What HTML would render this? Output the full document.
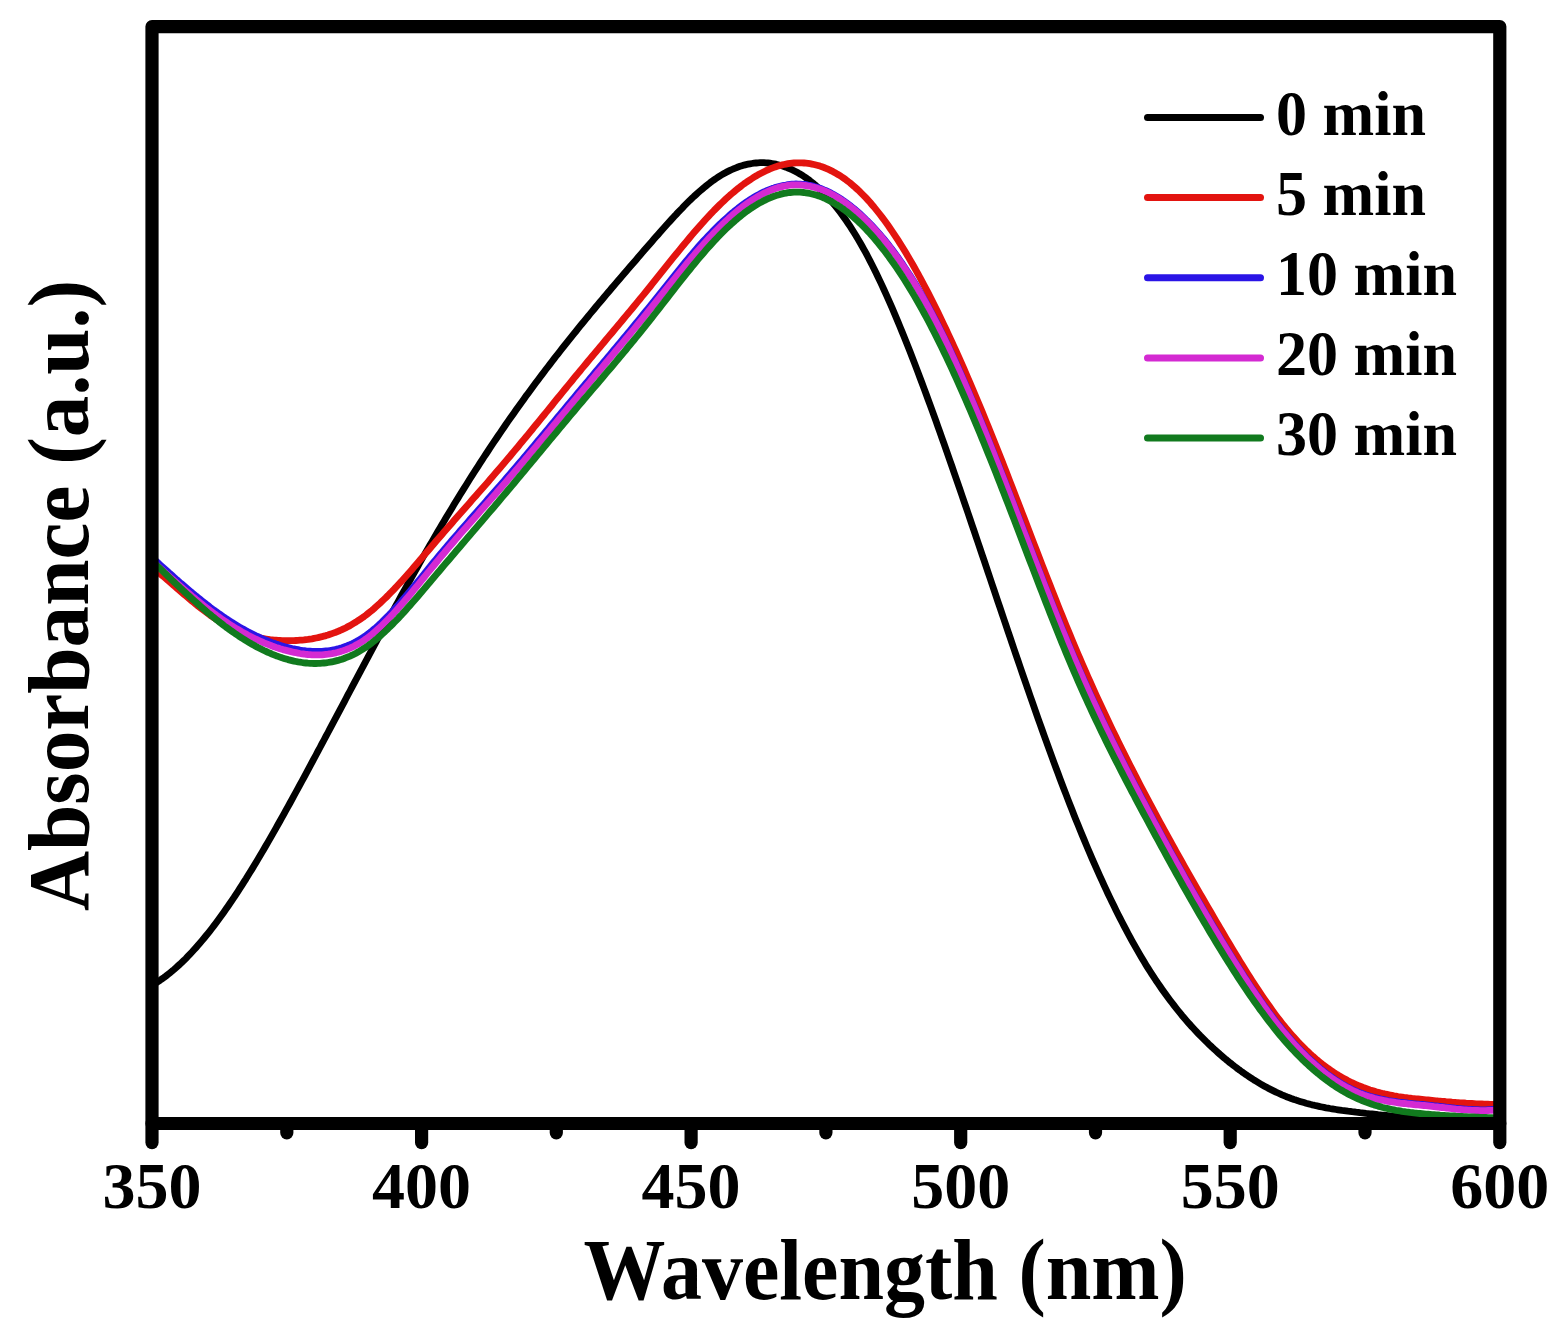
<!DOCTYPE html>
<html><head><meta charset="utf-8"><title>Absorbance vs Wavelength</title><style>
html,body{margin:0;padding:0;background:#fff;}
svg{display:block;}
text{font-family:"Liberation Serif","Times New Roman",serif;font-weight:bold;fill:#000;}
</style></head><body>
<svg width="1556" height="1336" viewBox="0 0 1556 1336">
<rect width="1556" height="1336" fill="#fff"/>
<g fill="none" stroke-width="6.8" stroke-linejoin="round" stroke-linecap="butt">
<path d="M152.0,985.3 154.0,984.1 156.0,982.9 158.0,981.6 160.0,980.3 162.0,978.9 164.0,977.5 166.0,976.0 168.0,974.4 170.0,972.8 172.0,971.2 174.0,969.5 176.0,967.7 178.0,965.9 180.0,964.1 182.0,962.2 184.0,960.3 186.0,958.3 188.0,956.2 190.0,954.1 192.0,952.0 194.0,949.8 196.0,947.6 198.0,945.3 200.0,943.0 202.0,940.6 204.0,938.2 206.0,935.8 208.0,933.3 210.0,930.8 212.0,928.2 214.0,925.6 216.0,922.9 218.0,920.2 220.0,917.5 222.0,914.7 224.0,911.9 226.0,909.1 228.0,906.2 230.0,903.3 232.0,900.3 234.0,897.4 236.0,894.3 238.0,891.3 240.0,888.2 242.0,885.1 244.0,881.9 246.0,878.8 248.0,875.5 250.0,872.3 252.0,869.1 254.0,865.8 256.0,862.5 258.0,859.1 260.0,855.8 262.0,852.4 264.0,849.0 266.0,845.5 268.0,842.1 270.0,838.6 272.0,835.1 274.0,831.6 276.0,828.1 278.0,824.5 280.0,821.0 282.0,817.4 284.0,813.8 286.0,810.2 288.0,806.6 290.0,803.0 292.0,799.3 294.0,795.7 296.0,792.0 298.0,788.4 300.0,784.7 302.0,781.0 304.0,777.3 306.0,773.6 308.0,769.9 310.0,766.2 312.0,762.4 314.0,758.7 316.0,755.0 318.0,751.2 320.0,747.5 322.0,743.7 324.0,740.0 326.0,736.2 328.0,732.5 330.0,728.7 332.0,724.9 334.0,721.2 336.0,717.4 338.0,713.6 340.0,709.8 342.0,706.1 344.0,702.3 346.0,698.5 348.0,694.7 350.0,691.0 352.0,687.2 354.0,683.4 356.0,679.7 358.0,675.9 360.0,672.1 362.0,668.4 364.0,664.6 366.0,660.9 368.0,657.1 370.0,653.4 372.0,649.7 374.0,646.0 376.0,642.2 378.0,638.5 380.0,634.8 382.0,631.1 384.0,627.4 386.0,623.7 388.0,620.0 390.0,616.4 392.0,612.7 394.0,609.1 396.0,605.4 398.0,601.8 400.0,598.1 402.0,594.5 404.0,590.9 406.0,587.3 408.0,583.7 410.0,580.2 412.0,576.6 414.0,573.0 416.0,569.5 418.0,566.0 420.0,562.4 422.0,558.9 424.0,555.4 426.0,551.9 428.0,548.5 430.0,545.0 432.0,541.6 434.0,538.1 436.0,534.7 438.0,531.3 440.0,527.9 442.0,524.5 444.0,521.2 446.0,517.8 448.0,514.5 450.0,511.2 452.0,507.9 454.0,504.6 456.0,501.3 458.0,498.1 460.0,494.8 462.0,491.6 464.0,488.4 466.0,485.2 468.0,482.0 470.0,478.8 472.0,475.7 474.0,472.5 476.0,469.4 478.0,466.3 480.0,463.2 482.0,460.1 484.0,457.0 486.0,454.0 488.0,451.0 490.0,447.9 492.0,444.9 494.0,441.9 496.0,439.0 498.0,436.0 500.0,433.1 502.0,430.1 504.0,427.2 506.0,424.3 508.0,421.4 510.0,418.6 512.0,415.7 514.0,412.9 516.0,410.0 518.0,407.2 520.0,404.4 522.0,401.7 524.0,398.9 526.0,396.1 528.0,393.4 530.0,390.7 532.0,388.0 534.0,385.3 536.0,382.6 538.0,379.9 540.0,377.2 542.0,374.6 544.0,371.9 546.0,369.3 548.0,366.7 550.0,364.1 552.0,361.5 554.0,358.9 556.0,356.3 558.0,353.8 560.0,351.2 562.0,348.7 564.0,346.1 566.0,343.6 568.0,341.1 570.0,338.6 572.0,336.1 574.0,333.6 576.0,331.2 578.0,328.7 580.0,326.2 582.0,323.8 584.0,321.3 586.0,318.9 588.0,316.5 590.0,314.0 592.0,311.6 594.0,309.2 596.0,306.8 598.0,304.4 600.0,302.0 602.0,299.7 604.0,297.3 606.0,294.9 608.0,292.5 610.0,290.2 612.0,287.8 614.0,285.5 616.0,283.1 618.0,280.8 620.0,278.5 622.0,276.1 624.0,273.8 626.0,271.5 628.0,269.1 630.0,266.8 632.0,264.5 634.0,262.2 636.0,259.9 638.0,257.6 640.0,255.3 642.0,252.9 644.0,250.6 646.0,248.3 648.0,246.0 650.0,243.7 652.0,241.4 654.0,239.1 656.0,236.8 658.0,234.6 660.0,232.3 662.0,230.0 664.0,227.8 666.0,225.5 668.0,223.3 670.0,221.1 672.0,218.9 674.0,216.7 676.0,214.6 678.0,212.4 680.0,210.3 682.0,208.3 684.0,206.2 686.0,204.2 688.0,202.2 690.0,200.2 692.0,198.3 694.0,196.4 696.0,194.6 698.0,192.8 700.0,191.0 702.0,189.3 704.0,187.6 706.0,186.0 708.0,184.4 710.0,182.8 712.0,181.3 714.0,179.9 716.0,178.5 718.0,177.2 720.0,175.9 722.0,174.7 724.0,173.5 726.0,172.4 728.0,171.4 730.0,170.4 732.0,169.5 734.0,168.6 736.0,167.8 738.0,167.0 740.0,166.3 742.0,165.7 744.0,165.1 746.0,164.6 748.0,164.2 750.0,163.8 752.0,163.5 754.0,163.2 756.0,163.0 758.0,162.8 760.0,162.7 762.0,162.7 764.0,162.7 766.0,162.8 768.0,163.0 770.0,163.2 772.0,163.5 774.0,163.8 776.0,164.2 778.0,164.7 780.0,165.2 782.0,165.8 784.0,166.5 786.0,167.2 788.0,168.0 790.0,168.8 792.0,169.7 794.0,170.7 796.0,171.7 798.0,172.8 800.0,174.0 802.0,175.2 804.0,176.5 806.0,177.9 808.0,179.3 810.0,180.8 812.0,182.4 814.0,184.0 816.0,185.7 818.0,187.5 820.0,189.4 822.0,191.3 824.0,193.3 826.0,195.4 828.0,197.5 830.0,199.8 832.0,202.1 834.0,204.4 836.0,206.9 838.0,209.4 840.0,212.0 842.0,214.7 844.0,217.5 846.0,220.3 848.0,223.2 850.0,226.2 852.0,229.3 854.0,232.5 856.0,235.7 858.0,239.1 860.0,242.5 862.0,246.0 864.0,249.6 866.0,253.2 868.0,257.0 870.0,260.8 872.0,264.7 874.0,268.7 876.0,272.8 878.0,276.9 880.0,281.1 882.0,285.4 884.0,289.7 886.0,294.1 888.0,298.6 890.0,303.1 892.0,307.7 894.0,312.4 896.0,317.1 898.0,321.9 900.0,326.7 902.0,331.6 904.0,336.5 906.0,341.5 908.0,346.5 910.0,351.6 912.0,356.7 914.0,361.9 916.0,367.1 918.0,372.4 920.0,377.7 922.0,383.0 924.0,388.4 926.0,393.8 928.0,399.2 930.0,404.7 932.0,410.2 934.0,415.7 936.0,421.2 938.0,426.8 940.0,432.4 942.0,438.1 944.0,443.7 946.0,449.4 948.0,455.1 950.0,460.8 952.0,466.5 954.0,472.3 956.0,478.1 958.0,483.9 960.0,489.7 962.0,495.5 964.0,501.3 966.0,507.2 968.0,513.0 970.0,518.9 972.0,524.8 974.0,530.7 976.0,536.6 978.0,542.5 980.0,548.4 982.0,554.3 984.0,560.2 986.0,566.2 988.0,572.1 990.0,578.0 992.0,584.0 994.0,589.9 996.0,595.8 998.0,601.8 1000.0,607.7 1002.0,613.6 1004.0,619.5 1006.0,625.4 1008.0,631.3 1010.0,637.2 1012.0,643.1 1014.0,649.0 1016.0,654.8 1018.0,660.7 1020.0,666.5 1022.0,672.3 1024.0,678.2 1026.0,683.9 1028.0,689.7 1030.0,695.5 1032.0,701.2 1034.0,706.9 1036.0,712.6 1038.0,718.3 1040.0,723.9 1042.0,729.5 1044.0,735.1 1046.0,740.6 1048.0,746.2 1050.0,751.7 1052.0,757.1 1054.0,762.6 1056.0,768.0 1058.0,773.3 1060.0,778.7 1062.0,784.0 1064.0,789.2 1066.0,794.4 1068.0,799.6 1070.0,804.7 1072.0,809.8 1074.0,814.9 1076.0,819.9 1078.0,824.8 1080.0,829.8 1082.0,834.6 1084.0,839.4 1086.0,844.2 1088.0,849.0 1090.0,853.6 1092.0,858.3 1094.0,862.9 1096.0,867.4 1098.0,871.9 1100.0,876.3 1102.0,880.7 1104.0,885.1 1106.0,889.4 1108.0,893.7 1110.0,897.9 1112.0,902.0 1114.0,906.1 1116.0,910.2 1118.0,914.2 1120.0,918.1 1122.0,922.0 1124.0,925.9 1126.0,929.7 1128.0,933.5 1130.0,937.2 1132.0,940.8 1134.0,944.4 1136.0,947.9 1138.0,951.4 1140.0,954.9 1142.0,958.3 1144.0,961.6 1146.0,964.9 1148.0,968.1 1150.0,971.3 1152.0,974.4 1154.0,977.4 1156.0,980.5 1158.0,983.4 1160.0,986.3 1162.0,989.2 1164.0,992.0 1166.0,994.8 1168.0,997.5 1170.0,1000.2 1172.0,1002.8 1174.0,1005.4 1176.0,1008.0 1178.0,1010.5 1180.0,1012.9 1182.0,1015.4 1184.0,1017.7 1186.0,1020.1 1188.0,1022.4 1190.0,1024.6 1192.0,1026.9 1194.0,1029.0 1196.0,1031.2 1198.0,1033.3 1200.0,1035.4 1202.0,1037.4 1204.0,1039.4 1206.0,1041.4 1208.0,1043.3 1210.0,1045.3 1212.0,1047.1 1214.0,1049.0 1216.0,1050.8 1218.0,1052.6 1220.0,1054.4 1222.0,1056.1 1224.0,1057.8 1226.0,1059.5 1228.0,1061.1 1230.0,1062.8 1232.0,1064.3 1234.0,1065.9 1236.0,1067.4 1238.0,1069.0 1240.0,1070.4 1242.0,1071.9 1244.0,1073.3 1246.0,1074.7 1248.0,1076.0 1250.0,1077.4 1252.0,1078.7 1254.0,1080.0 1256.0,1081.2 1258.0,1082.4 1260.0,1083.6 1262.0,1084.8 1264.0,1085.9 1266.0,1087.0 1268.0,1088.1 1270.0,1089.1 1272.0,1090.1 1274.0,1091.1 1276.0,1092.1 1278.0,1093.0 1280.0,1093.9 1282.0,1094.8 1284.0,1095.6 1286.0,1096.5 1288.0,1097.3 1290.0,1098.0 1292.0,1098.8 1294.0,1099.5 1296.0,1100.1 1298.0,1100.8 1300.0,1101.4 1302.0,1102.0 1304.0,1102.6 1306.0,1103.2 1308.0,1103.7 1310.0,1104.3 1312.0,1104.8 1314.0,1105.2 1316.0,1105.7 1318.0,1106.1 1320.0,1106.6 1322.0,1107.0 1324.0,1107.4 1326.0,1107.8 1328.0,1108.1 1330.0,1108.5 1332.0,1108.8 1334.0,1109.2 1336.0,1109.5 1338.0,1109.8 1340.0,1110.1 1342.0,1110.4 1344.0,1110.6 1346.0,1110.9 1348.0,1111.2 1350.0,1111.4 1352.0,1111.7 1354.0,1111.9 1356.0,1112.2 1358.0,1112.4 1360.0,1112.7 1362.0,1112.9 1364.0,1113.1 1366.0,1113.4 1368.0,1113.6 1370.0,1113.8 1372.0,1114.0 1374.0,1114.2 1376.0,1114.4 1378.0,1114.7 1380.0,1114.9 1382.0,1115.1 1384.0,1115.2 1386.0,1115.4 1388.0,1115.6 1390.0,1115.8 1392.0,1116.0 1394.0,1116.1 1396.0,1116.3 1398.0,1116.5 1400.0,1116.6 1402.0,1116.8 1404.0,1116.9 1406.0,1117.0 1408.0,1117.2 1410.0,1117.3 1412.0,1117.4 1414.0,1117.5 1416.0,1117.6 1418.0,1117.7 1420.0,1117.8 1422.0,1117.9 1424.0,1118.0 1426.0,1118.1 1428.0,1118.1 1430.0,1118.2 1432.0,1118.2 1434.0,1118.3 1436.0,1118.3 1438.0,1118.3 1440.0,1118.4 1442.0,1118.4 1444.0,1118.4 1446.0,1118.4 1448.0,1118.4 1450.0,1118.4 1452.0,1118.4 1454.0,1118.4 1456.0,1118.4 1458.0,1118.4 1460.0,1118.4 1462.0,1118.4 1464.0,1118.4 1466.0,1118.4 1468.0,1118.4 1470.0,1118.5 1472.0,1118.5 1474.0,1118.5 1476.0,1118.5 1478.0,1118.5 1480.0,1118.5 1482.0,1118.5 1484.0,1118.6 1486.0,1118.6 1488.0,1118.7 1490.0,1118.7 1492.0,1118.8 1494.0,1118.8 1496.0,1118.9 1498.0,1119.0 1499.8,1119.1" stroke="#000000"/>
<path d="M152.0,566.9 154.0,568.6 156.0,570.2 158.0,571.9 160.0,573.6 162.0,575.3 164.0,577.0 166.0,578.7 168.0,580.5 170.0,582.2 172.0,583.9 174.0,585.7 176.0,587.4 178.0,589.2 180.0,590.9 182.0,592.6 184.0,594.3 186.0,596.0 188.0,597.7 190.0,599.4 192.0,601.1 194.0,602.7 196.0,604.4 198.0,606.0 200.0,607.5 202.0,609.1 204.0,610.6 206.0,612.1 208.0,613.6 210.0,615.1 212.0,616.5 214.0,617.8 216.0,619.2 218.0,620.5 220.0,621.7 222.0,622.9 224.0,624.1 226.0,625.2 228.0,626.3 230.0,627.3 232.0,628.3 234.0,629.3 236.0,630.2 238.0,631.0 240.0,631.9 242.0,632.6 244.0,633.4 246.0,634.1 248.0,634.7 250.0,635.4 252.0,635.9 254.0,636.5 256.0,637.0 258.0,637.5 260.0,637.9 262.0,638.3 264.0,638.7 266.0,639.0 268.0,639.3 270.0,639.6 272.0,639.8 274.0,640.1 276.0,640.2 278.0,640.4 280.0,640.5 282.0,640.6 284.0,640.7 286.0,640.7 288.0,640.7 290.0,640.7 292.0,640.6 294.0,640.6 296.0,640.5 298.0,640.4 300.0,640.2 302.0,640.1 304.0,639.9 306.0,639.6 308.0,639.4 310.0,639.1 312.0,638.8 314.0,638.4 316.0,638.0 318.0,637.6 320.0,637.1 322.0,636.7 324.0,636.1 326.0,635.6 328.0,635.0 330.0,634.3 332.0,633.6 334.0,632.9 336.0,632.2 338.0,631.3 340.0,630.5 342.0,629.6 344.0,628.7 346.0,627.7 348.0,626.6 350.0,625.6 352.0,624.4 354.0,623.2 356.0,622.0 358.0,620.7 360.0,619.4 362.0,618.0 364.0,616.6 366.0,615.1 368.0,613.5 370.0,611.9 372.0,610.3 374.0,608.6 376.0,606.8 378.0,605.0 380.0,603.2 382.0,601.3 384.0,599.4 386.0,597.5 388.0,595.5 390.0,593.4 392.0,591.4 394.0,589.3 396.0,587.2 398.0,585.0 400.0,582.9 402.0,580.7 404.0,578.4 406.0,576.2 408.0,573.9 410.0,571.7 412.0,569.4 414.0,567.1 416.0,564.8 418.0,562.4 420.0,560.1 422.0,557.8 424.0,555.4 426.0,553.1 428.0,550.7 430.0,548.4 432.0,546.0 434.0,543.7 436.0,541.3 438.0,539.0 440.0,536.7 442.0,534.4 444.0,532.1 446.0,529.8 448.0,527.5 450.0,525.2 452.0,522.9 454.0,520.6 456.0,518.3 458.0,516.0 460.0,513.8 462.0,511.5 464.0,509.2 466.0,506.9 468.0,504.7 470.0,502.4 472.0,500.1 474.0,497.8 476.0,495.6 478.0,493.3 480.0,491.0 482.0,488.7 484.0,486.4 486.0,484.2 488.0,481.9 490.0,479.6 492.0,477.3 494.0,474.9 496.0,472.6 498.0,470.3 500.0,468.0 502.0,465.6 504.0,463.3 506.0,460.9 508.0,458.6 510.0,456.2 512.0,453.8 514.0,451.4 516.0,449.1 518.0,446.7 520.0,444.2 522.0,441.8 524.0,439.4 526.0,437.0 528.0,434.6 530.0,432.1 532.0,429.7 534.0,427.2 536.0,424.8 538.0,422.3 540.0,419.9 542.0,417.4 544.0,415.0 546.0,412.5 548.0,410.1 550.0,407.6 552.0,405.2 554.0,402.7 556.0,400.2 558.0,397.8 560.0,395.3 562.0,392.9 564.0,390.4 566.0,388.0 568.0,385.5 570.0,383.1 572.0,380.7 574.0,378.2 576.0,375.8 578.0,373.4 580.0,371.0 582.0,368.5 584.0,366.1 586.0,363.7 588.0,361.3 590.0,358.9 592.0,356.5 594.0,354.1 596.0,351.8 598.0,349.4 600.0,347.0 602.0,344.6 604.0,342.2 606.0,339.8 608.0,337.4 610.0,335.1 612.0,332.7 614.0,330.3 616.0,327.9 618.0,325.5 620.0,323.1 622.0,320.7 624.0,318.3 626.0,315.9 628.0,313.5 630.0,311.1 632.0,308.7 634.0,306.3 636.0,303.8 638.0,301.4 640.0,299.0 642.0,296.5 644.0,294.1 646.0,291.6 648.0,289.1 650.0,286.7 652.0,284.2 654.0,281.7 656.0,279.2 658.0,276.7 660.0,274.2 662.0,271.7 664.0,269.2 666.0,266.7 668.0,264.2 670.0,261.7 672.0,259.2 674.0,256.7 676.0,254.3 678.0,251.8 680.0,249.4 682.0,246.9 684.0,244.5 686.0,242.1 688.0,239.7 690.0,237.3 692.0,234.9 694.0,232.6 696.0,230.3 698.0,228.0 700.0,225.7 702.0,223.5 704.0,221.2 706.0,219.0 708.0,216.9 710.0,214.7 712.0,212.6 714.0,210.5 716.0,208.5 718.0,206.5 720.0,204.5 722.0,202.6 724.0,200.7 726.0,198.8 728.0,197.0 730.0,195.2 732.0,193.5 734.0,191.8 736.0,190.1 738.0,188.5 740.0,187.0 742.0,185.4 744.0,183.9 746.0,182.5 748.0,181.1 750.0,179.8 752.0,178.5 754.0,177.2 756.0,176.0 758.0,174.8 760.0,173.7 762.0,172.7 764.0,171.7 766.0,170.7 768.0,169.8 770.0,168.9 772.0,168.1 774.0,167.4 776.0,166.7 778.0,166.1 780.0,165.5 782.0,164.9 784.0,164.5 786.0,164.1 788.0,163.7 790.0,163.4 792.0,163.2 794.0,163.0 796.0,162.9 798.0,162.8 800.0,162.8 802.0,162.9 804.0,163.0 806.0,163.2 808.0,163.4 810.0,163.7 812.0,164.1 814.0,164.5 816.0,165.0 818.0,165.5 820.0,166.1 822.0,166.8 824.0,167.5 826.0,168.3 828.0,169.2 830.0,170.1 832.0,171.1 834.0,172.2 836.0,173.3 838.0,174.5 840.0,175.7 842.0,177.0 844.0,178.4 846.0,179.8 848.0,181.4 850.0,182.9 852.0,184.6 854.0,186.3 856.0,188.1 858.0,189.9 860.0,191.8 862.0,193.8 864.0,195.8 866.0,197.9 868.0,200.1 870.0,202.3 872.0,204.7 874.0,207.0 876.0,209.5 878.0,212.0 880.0,214.5 882.0,217.1 884.0,219.8 886.0,222.5 888.0,225.3 890.0,228.2 892.0,231.1 894.0,234.1 896.0,237.1 898.0,240.2 900.0,243.3 902.0,246.5 904.0,249.8 906.0,253.1 908.0,256.4 910.0,259.9 912.0,263.3 914.0,266.8 916.0,270.4 918.0,274.0 920.0,277.6 922.0,281.4 924.0,285.1 926.0,288.9 928.0,292.7 930.0,296.6 932.0,300.6 934.0,304.6 936.0,308.6 938.0,312.6 940.0,316.7 942.0,320.9 944.0,325.1 946.0,329.3 948.0,333.6 950.0,337.9 952.0,342.2 954.0,346.6 956.0,351.0 958.0,355.5 960.0,360.0 962.0,364.5 964.0,369.0 966.0,373.6 968.0,378.3 970.0,382.9 972.0,387.6 974.0,392.3 976.0,397.0 978.0,401.8 980.0,406.6 982.0,411.4 984.0,416.3 986.0,421.2 988.0,426.1 990.0,431.0 992.0,436.0 994.0,441.0 996.0,446.0 998.0,451.0 1000.0,456.0 1002.0,461.1 1004.0,466.2 1006.0,471.3 1008.0,476.4 1010.0,481.6 1012.0,486.7 1014.0,491.9 1016.0,497.1 1018.0,502.2 1020.0,507.4 1022.0,512.6 1024.0,517.8 1026.0,523.0 1028.0,528.2 1030.0,533.5 1032.0,538.7 1034.0,543.9 1036.0,549.0 1038.0,554.2 1040.0,559.4 1042.0,564.6 1044.0,569.7 1046.0,574.9 1048.0,580.0 1050.0,585.1 1052.0,590.2 1054.0,595.3 1056.0,600.3 1058.0,605.4 1060.0,610.4 1062.0,615.3 1064.0,620.3 1066.0,625.2 1068.0,630.1 1070.0,634.9 1072.0,639.8 1074.0,644.5 1076.0,649.3 1078.0,654.0 1080.0,658.7 1082.0,663.3 1084.0,667.9 1086.0,672.4 1088.0,677.0 1090.0,681.5 1092.0,685.9 1094.0,690.4 1096.0,694.8 1098.0,699.1 1100.0,703.5 1102.0,707.8 1104.0,712.0 1106.0,716.3 1108.0,720.5 1110.0,724.7 1112.0,728.9 1114.0,733.0 1116.0,737.1 1118.0,741.2 1120.0,745.3 1122.0,749.3 1124.0,753.3 1126.0,757.3 1128.0,761.3 1130.0,765.2 1132.0,769.1 1134.0,773.1 1136.0,776.9 1138.0,780.8 1140.0,784.7 1142.0,788.5 1144.0,792.3 1146.0,796.1 1148.0,799.9 1150.0,803.6 1152.0,807.4 1154.0,811.1 1156.0,814.9 1158.0,818.6 1160.0,822.3 1162.0,825.9 1164.0,829.6 1166.0,833.2 1168.0,836.9 1170.0,840.5 1172.0,844.1 1174.0,847.7 1176.0,851.3 1178.0,854.9 1180.0,858.5 1182.0,862.0 1184.0,865.6 1186.0,869.1 1188.0,872.6 1190.0,876.1 1192.0,879.6 1194.0,883.1 1196.0,886.6 1198.0,890.1 1200.0,893.6 1202.0,897.0 1204.0,900.5 1206.0,903.9 1208.0,907.4 1210.0,910.8 1212.0,914.3 1214.0,917.7 1216.0,921.1 1218.0,924.5 1220.0,927.9 1222.0,931.3 1224.0,934.7 1226.0,938.1 1228.0,941.5 1230.0,944.8 1232.0,948.2 1234.0,951.5 1236.0,954.8 1238.0,958.1 1240.0,961.4 1242.0,964.6 1244.0,967.8 1246.0,971.0 1248.0,974.2 1250.0,977.4 1252.0,980.5 1254.0,983.6 1256.0,986.6 1258.0,989.7 1260.0,992.7 1262.0,995.6 1264.0,998.6 1266.0,1001.5 1268.0,1004.3 1270.0,1007.1 1272.0,1009.9 1274.0,1012.7 1276.0,1015.4 1278.0,1018.0 1280.0,1020.6 1282.0,1023.2 1284.0,1025.7 1286.0,1028.1 1288.0,1030.5 1290.0,1032.9 1292.0,1035.2 1294.0,1037.4 1296.0,1039.6 1298.0,1041.8 1300.0,1043.9 1302.0,1045.9 1304.0,1047.9 1306.0,1049.9 1308.0,1051.8 1310.0,1053.7 1312.0,1055.5 1314.0,1057.2 1316.0,1059.0 1318.0,1060.7 1320.0,1062.3 1322.0,1063.9 1324.0,1065.4 1326.0,1066.9 1328.0,1068.4 1330.0,1069.8 1332.0,1071.2 1334.0,1072.5 1336.0,1073.8 1338.0,1075.0 1340.0,1076.3 1342.0,1077.4 1344.0,1078.6 1346.0,1079.6 1348.0,1080.7 1350.0,1081.7 1352.0,1082.7 1354.0,1083.6 1356.0,1084.5 1358.0,1085.4 1360.0,1086.2 1362.0,1087.0 1364.0,1087.8 1366.0,1088.5 1368.0,1089.2 1370.0,1089.9 1372.0,1090.5 1374.0,1091.1 1376.0,1091.7 1378.0,1092.2 1380.0,1092.8 1382.0,1093.3 1384.0,1093.7 1386.0,1094.2 1388.0,1094.6 1390.0,1095.0 1392.0,1095.4 1394.0,1095.8 1396.0,1096.1 1398.0,1096.5 1400.0,1096.8 1402.0,1097.1 1404.0,1097.4 1406.0,1097.6 1408.0,1097.9 1410.0,1098.1 1412.0,1098.4 1414.0,1098.6 1416.0,1098.8 1418.0,1099.0 1420.0,1099.2 1422.0,1099.4 1424.0,1099.6 1426.0,1099.8 1428.0,1100.0 1430.0,1100.2 1432.0,1100.4 1434.0,1100.6 1436.0,1100.8 1438.0,1101.0 1440.0,1101.1 1442.0,1101.3 1444.0,1101.5 1446.0,1101.7 1448.0,1101.8 1450.0,1102.0 1452.0,1102.2 1454.0,1102.3 1456.0,1102.5 1458.0,1102.6 1460.0,1102.8 1462.0,1102.9 1464.0,1103.0 1466.0,1103.2 1468.0,1103.3 1470.0,1103.4 1472.0,1103.5 1474.0,1103.6 1476.0,1103.8 1478.0,1103.8 1480.0,1103.9 1482.0,1104.0 1484.0,1104.1 1486.0,1104.2 1488.0,1104.2 1490.0,1104.3 1492.0,1104.3 1494.0,1104.4 1496.0,1104.4 1498.0,1104.4 1499.8,1104.4" stroke="#e3140f"/>
<path d="M152.0,557.5 154.0,559.3 156.0,561.1 158.0,562.9 160.0,564.7 162.0,566.5 164.0,568.3 166.0,570.1 168.0,571.9 170.0,573.7 172.0,575.4 174.0,577.2 176.0,579.0 178.0,580.7 180.0,582.5 182.0,584.2 184.0,585.9 186.0,587.6 188.0,589.3 190.0,591.0 192.0,592.7 194.0,594.3 196.0,596.0 198.0,597.6 200.0,599.2 202.0,600.8 204.0,602.4 206.0,604.0 208.0,605.5 210.0,607.1 212.0,608.6 214.0,610.1 216.0,611.5 218.0,613.0 220.0,614.4 222.0,615.8 224.0,617.2 226.0,618.5 228.0,619.9 230.0,621.2 232.0,622.4 234.0,623.7 236.0,624.9 238.0,626.1 240.0,627.3 242.0,628.5 244.0,629.6 246.0,630.7 248.0,631.8 250.0,632.8 252.0,633.8 254.0,634.8 256.0,635.8 258.0,636.7 260.0,637.6 262.0,638.5 264.0,639.4 266.0,640.2 268.0,641.0 270.0,641.8 272.0,642.6 274.0,643.3 276.0,644.0 278.0,644.6 280.0,645.3 282.0,645.9 284.0,646.5 286.0,647.0 288.0,647.5 290.0,648.0 292.0,648.5 294.0,648.9 296.0,649.3 298.0,649.7 300.0,650.1 302.0,650.4 304.0,650.6 306.0,650.9 308.0,651.1 310.0,651.2 312.0,651.4 314.0,651.5 316.0,651.5 318.0,651.5 320.0,651.5 322.0,651.4 324.0,651.2 326.0,651.0 328.0,650.8 330.0,650.5 332.0,650.2 334.0,649.8 336.0,649.4 338.0,648.9 340.0,648.3 342.0,647.7 344.0,647.0 346.0,646.3 348.0,645.5 350.0,644.7 352.0,643.8 354.0,642.8 356.0,641.7 358.0,640.6 360.0,639.4 362.0,638.2 364.0,636.9 366.0,635.5 368.0,634.0 370.0,632.5 372.0,630.9 374.0,629.2 376.0,627.5 378.0,625.7 380.0,623.9 382.0,622.0 384.0,620.0 386.0,618.0 388.0,616.0 390.0,613.9 392.0,611.8 394.0,609.6 396.0,607.4 398.0,605.2 400.0,602.9 402.0,600.6 404.0,598.3 406.0,595.9 408.0,593.6 410.0,591.2 412.0,588.8 414.0,586.3 416.0,583.9 418.0,581.5 420.0,579.0 422.0,576.5 424.0,574.1 426.0,571.6 428.0,569.1 430.0,566.7 432.0,564.2 434.0,561.8 436.0,559.4 438.0,556.9 440.0,554.5 442.0,552.1 444.0,549.8 446.0,547.4 448.0,545.0 450.0,542.7 452.0,540.3 454.0,538.0 456.0,535.7 458.0,533.4 460.0,531.0 462.0,528.7 464.0,526.4 466.0,524.2 468.0,521.9 470.0,519.6 472.0,517.3 474.0,515.0 476.0,512.8 478.0,510.5 480.0,508.2 482.0,505.9 484.0,503.7 486.0,501.4 488.0,499.1 490.0,496.9 492.0,494.6 494.0,492.3 496.0,490.0 498.0,487.7 500.0,485.5 502.0,483.2 504.0,480.9 506.0,478.6 508.0,476.2 510.0,473.9 512.0,471.6 514.0,469.3 516.0,466.9 518.0,464.6 520.0,462.2 522.0,459.9 524.0,457.5 526.0,455.1 528.0,452.8 530.0,450.4 532.0,448.0 534.0,445.6 536.0,443.2 538.0,440.8 540.0,438.4 542.0,436.1 544.0,433.7 546.0,431.3 548.0,428.9 550.0,426.4 552.0,424.0 554.0,421.6 556.0,419.2 558.0,416.8 560.0,414.4 562.0,412.0 564.0,409.6 566.0,407.2 568.0,404.8 570.0,402.4 572.0,400.0 574.0,397.6 576.0,395.2 578.0,392.8 580.0,390.4 582.0,388.0 584.0,385.6 586.0,383.2 588.0,380.9 590.0,378.5 592.0,376.1 594.0,373.7 596.0,371.3 598.0,368.9 600.0,366.6 602.0,364.2 604.0,361.8 606.0,359.4 608.0,357.0 610.0,354.6 612.0,352.2 614.0,349.8 616.0,347.4 618.0,345.0 620.0,342.6 622.0,340.2 624.0,337.8 626.0,335.4 628.0,333.0 630.0,330.6 632.0,328.1 634.0,325.7 636.0,323.3 638.0,320.8 640.0,318.4 642.0,315.9 644.0,313.4 646.0,311.0 648.0,308.5 650.0,306.0 652.0,303.5 654.0,301.0 656.0,298.5 658.0,296.0 660.0,293.5 662.0,291.0 664.0,288.5 666.0,286.0 668.0,283.5 670.0,281.0 672.0,278.5 674.0,276.0 676.0,273.5 678.0,271.0 680.0,268.6 682.0,266.1 684.0,263.7 686.0,261.3 688.0,258.9 690.0,256.5 692.0,254.1 694.0,251.8 696.0,249.4 698.0,247.1 700.0,244.8 702.0,242.6 704.0,240.4 706.0,238.3 708.0,236.2 710.0,234.1 712.0,232.0 714.0,230.0 716.0,228.0 718.0,226.0 720.0,224.0 722.0,222.1 724.0,220.3 726.0,218.5 728.0,216.7 730.0,214.9 732.0,213.2 734.0,211.5 736.0,209.9 738.0,208.3 740.0,206.8 742.0,205.3 744.0,203.8 746.0,202.4 748.0,201.0 750.0,199.7 752.0,198.5 754.0,197.2 756.0,196.1 758.0,195.0 760.0,193.9 762.0,192.9 764.0,191.9 766.0,191.0 768.0,190.2 770.0,189.4 772.0,188.6 774.0,188.0 776.0,187.3 778.0,186.8 780.0,186.3 782.0,185.8 784.0,185.3 786.0,185.0 788.0,184.6 790.0,184.4 792.0,184.2 794.0,184.1 796.0,184.0 798.0,184.1 800.0,184.1 802.0,184.3 804.0,184.5 806.0,184.7 808.0,185.1 810.0,185.4 812.0,185.9 814.0,186.4 816.0,187.0 818.0,187.6 820.0,188.3 822.0,189.0 824.0,189.9 826.0,190.7 828.0,191.6 830.0,192.6 832.0,193.7 834.0,194.8 836.0,195.9 838.0,197.1 840.0,198.4 842.0,199.7 844.0,201.1 846.0,202.5 848.0,204.0 850.0,205.5 852.0,207.1 854.0,208.7 856.0,210.4 858.0,212.1 860.0,213.9 862.0,215.7 864.0,217.6 866.0,219.6 868.0,221.5 870.0,223.6 872.0,225.7 874.0,227.8 876.0,230.0 878.0,232.2 880.0,234.5 882.0,236.9 884.0,239.3 886.0,241.7 888.0,244.2 890.0,246.8 892.0,249.4 894.0,252.1 896.0,254.8 898.0,257.6 900.0,260.4 902.0,263.3 904.0,266.3 906.0,269.3 908.0,272.3 910.0,275.4 912.0,278.6 914.0,281.8 916.0,285.1 918.0,288.5 920.0,291.9 922.0,295.3 924.0,298.9 926.0,302.4 928.0,306.1 930.0,309.8 932.0,313.5 934.0,317.4 936.0,321.2 938.0,325.2 940.0,329.2 942.0,333.2 944.0,337.3 946.0,341.5 948.0,345.7 950.0,350.0 952.0,354.3 954.0,358.6 956.0,363.0 958.0,367.5 960.0,372.0 962.0,376.5 964.0,381.1 966.0,385.7 968.0,390.3 970.0,395.0 972.0,399.8 974.0,404.5 976.0,409.3 978.0,414.2 980.0,419.0 982.0,423.9 984.0,428.8 986.0,433.8 988.0,438.8 990.0,443.8 992.0,448.8 994.0,453.8 996.0,458.9 998.0,464.0 1000.0,469.1 1002.0,474.2 1004.0,479.3 1006.0,484.5 1008.0,489.7 1010.0,494.8 1012.0,500.0 1014.0,505.2 1016.0,510.4 1018.0,515.6 1020.0,520.9 1022.0,526.1 1024.0,531.3 1026.0,536.5 1028.0,541.7 1030.0,546.9 1032.0,552.1 1034.0,557.3 1036.0,562.5 1038.0,567.7 1040.0,572.8 1042.0,578.0 1044.0,583.1 1046.0,588.2 1048.0,593.3 1050.0,598.4 1052.0,603.5 1054.0,608.5 1056.0,613.5 1058.0,618.5 1060.0,623.4 1062.0,628.4 1064.0,633.3 1066.0,638.1 1068.0,642.9 1070.0,647.7 1072.0,652.5 1074.0,657.2 1076.0,661.9 1078.0,666.5 1080.0,671.1 1082.0,675.6 1084.0,680.2 1086.0,684.6 1088.0,689.1 1090.0,693.5 1092.0,697.9 1094.0,702.2 1096.0,706.5 1098.0,710.8 1100.0,715.0 1102.0,719.3 1104.0,723.4 1106.0,727.6 1108.0,731.7 1110.0,735.8 1112.0,739.9 1114.0,744.0 1116.0,748.0 1118.0,752.0 1120.0,756.0 1122.0,760.0 1124.0,763.9 1126.0,767.9 1128.0,771.8 1130.0,775.7 1132.0,779.5 1134.0,783.4 1136.0,787.2 1138.0,791.0 1140.0,794.9 1142.0,798.7 1144.0,802.4 1146.0,806.2 1148.0,810.0 1150.0,813.7 1152.0,817.5 1154.0,821.2 1156.0,824.9 1158.0,828.6 1160.0,832.3 1162.0,836.0 1164.0,839.7 1166.0,843.4 1168.0,847.0 1170.0,850.7 1172.0,854.3 1174.0,857.9 1176.0,861.5 1178.0,865.1 1180.0,868.7 1182.0,872.2 1184.0,875.8 1186.0,879.3 1188.0,882.9 1190.0,886.4 1192.0,889.9 1194.0,893.4 1196.0,896.9 1198.0,900.4 1200.0,903.8 1202.0,907.3 1204.0,910.7 1206.0,914.1 1208.0,917.5 1210.0,920.9 1212.0,924.3 1214.0,927.6 1216.0,931.0 1218.0,934.3 1220.0,937.7 1222.0,941.0 1224.0,944.3 1226.0,947.5 1228.0,950.8 1230.0,954.0 1232.0,957.3 1234.0,960.5 1236.0,963.6 1238.0,966.8 1240.0,969.9 1242.0,973.1 1244.0,976.2 1246.0,979.2 1248.0,982.3 1250.0,985.3 1252.0,988.3 1254.0,991.2 1256.0,994.1 1258.0,997.0 1260.0,999.9 1262.0,1002.7 1264.0,1005.6 1266.0,1008.3 1268.0,1011.1 1270.0,1013.8 1272.0,1016.4 1274.0,1019.1 1276.0,1021.7 1278.0,1024.2 1280.0,1026.7 1282.0,1029.2 1284.0,1031.6 1286.0,1034.0 1288.0,1036.4 1290.0,1038.7 1292.0,1041.0 1294.0,1043.2 1296.0,1045.4 1298.0,1047.5 1300.0,1049.6 1302.0,1051.7 1304.0,1053.7 1306.0,1055.7 1308.0,1057.6 1310.0,1059.5 1312.0,1061.3 1314.0,1063.1 1316.0,1064.9 1318.0,1066.6 1320.0,1068.3 1322.0,1069.9 1324.0,1071.5 1326.0,1073.1 1328.0,1074.6 1330.0,1076.0 1332.0,1077.4 1334.0,1078.8 1336.0,1080.2 1338.0,1081.4 1340.0,1082.7 1342.0,1083.9 1344.0,1085.0 1346.0,1086.2 1348.0,1087.2 1350.0,1088.3 1352.0,1089.3 1354.0,1090.2 1356.0,1091.1 1358.0,1092.0 1360.0,1092.8 1362.0,1093.5 1364.0,1094.3 1366.0,1095.0 1368.0,1095.6 1370.0,1096.3 1372.0,1096.8 1374.0,1097.4 1376.0,1097.9 1378.0,1098.4 1380.0,1098.9 1382.0,1099.3 1384.0,1099.7 1386.0,1100.1 1388.0,1100.5 1390.0,1100.8 1392.0,1101.1 1394.0,1101.4 1396.0,1101.7 1398.0,1102.0 1400.0,1102.3 1402.0,1102.5 1404.0,1102.7 1406.0,1102.9 1408.0,1103.2 1410.0,1103.4 1412.0,1103.6 1414.0,1103.8 1416.0,1104.0 1418.0,1104.1 1420.0,1104.3 1422.0,1104.5 1424.0,1104.7 1426.0,1104.9 1428.0,1105.1 1430.0,1105.3 1432.0,1105.5 1434.0,1105.8 1436.0,1106.0 1438.0,1106.2 1440.0,1106.5 1442.0,1106.7 1444.0,1106.9 1446.0,1107.2 1448.0,1107.4 1450.0,1107.6 1452.0,1107.8 1454.0,1108.0 1456.0,1108.3 1458.0,1108.5 1460.0,1108.6 1462.0,1108.8 1464.0,1109.0 1466.0,1109.1 1468.0,1109.3 1470.0,1109.4 1472.0,1109.5 1474.0,1109.6 1476.0,1109.7 1478.0,1109.7 1480.0,1109.8 1482.0,1109.8 1484.0,1109.8 1486.0,1109.8 1488.0,1109.7 1490.0,1109.6 1492.0,1109.5 1494.0,1109.4 1496.0,1109.2 1498.0,1109.0 1499.8,1108.8" stroke="#2a14e6"/>
<path d="M152.0,560.9 154.0,562.7 156.0,564.5 158.0,566.3 160.0,568.1 162.0,569.9 164.0,571.7 166.0,573.5 168.0,575.3 170.0,577.1 172.0,578.8 174.0,580.6 176.0,582.4 178.0,584.1 180.0,585.9 182.0,587.6 184.0,589.3 186.0,591.0 188.0,592.7 190.0,594.4 192.0,596.1 194.0,597.7 196.0,599.4 198.0,601.0 200.0,602.6 202.0,604.2 204.0,605.8 206.0,607.4 208.0,608.9 210.0,610.5 212.0,612.0 214.0,613.5 216.0,614.9 218.0,616.4 220.0,617.8 222.0,619.2 224.0,620.6 226.0,621.9 228.0,623.3 230.0,624.6 232.0,625.8 234.0,627.1 236.0,628.3 238.0,629.5 240.0,630.7 242.0,631.9 244.0,633.0 246.0,634.1 248.0,635.2 250.0,636.2 252.0,637.2 254.0,638.2 256.0,639.2 258.0,640.1 260.0,641.0 262.0,641.9 264.0,642.8 266.0,643.6 268.0,644.4 270.0,645.2 272.0,646.0 274.0,646.7 276.0,647.4 278.0,648.0 280.0,648.7 282.0,649.3 284.0,649.9 286.0,650.4 288.0,650.9 290.0,651.4 292.0,651.9 294.0,652.3 296.0,652.7 298.0,653.1 300.0,653.5 302.0,653.8 304.0,654.0 306.0,654.3 308.0,654.5 310.0,654.6 312.0,654.8 314.0,654.9 316.0,654.9 318.0,654.9 320.0,654.9 322.0,654.8 324.0,654.6 326.0,654.4 328.0,654.2 330.0,653.9 332.0,653.6 334.0,653.2 336.0,652.8 338.0,652.3 340.0,651.7 342.0,651.1 344.0,650.4 346.0,649.7 348.0,648.9 350.0,648.1 352.0,647.2 354.0,646.2 356.0,645.1 358.0,644.0 360.0,642.8 362.0,641.6 364.0,640.3 366.0,638.9 368.0,637.4 370.0,635.9 372.0,634.3 374.0,632.6 376.0,630.9 378.0,629.1 380.0,627.3 382.0,625.4 384.0,623.4 386.0,621.4 388.0,619.4 390.0,617.3 392.0,615.2 394.0,613.0 396.0,610.8 398.0,608.6 400.0,606.3 402.0,604.0 404.0,601.7 406.0,599.3 408.0,597.0 410.0,594.6 412.0,592.2 414.0,589.7 416.0,587.3 418.0,584.9 420.0,582.4 422.0,579.9 424.0,577.5 426.0,575.0 428.0,572.5 430.0,570.1 432.0,567.6 434.0,565.2 436.0,562.8 438.0,560.3 440.0,557.9 442.0,555.5 444.0,553.2 446.0,550.8 448.0,548.4 450.0,546.1 452.0,543.7 454.0,541.4 456.0,539.1 458.0,536.8 460.0,534.4 462.0,532.1 464.0,529.8 466.0,527.6 468.0,525.3 470.0,523.0 472.0,520.7 474.0,518.4 476.0,516.2 478.0,513.9 480.0,511.6 482.0,509.3 484.0,507.1 486.0,504.8 488.0,502.5 490.0,500.3 492.0,498.0 494.0,495.7 496.0,493.4 498.0,491.1 500.0,488.9 502.0,486.6 504.0,484.3 506.0,482.0 508.0,479.6 510.0,477.3 512.0,475.0 514.0,472.7 516.0,470.3 518.0,468.0 520.0,465.6 522.0,463.3 524.0,460.9 526.0,458.5 528.0,456.2 530.0,453.8 532.0,451.4 534.0,449.0 536.0,446.6 538.0,444.2 540.0,441.8 542.0,439.5 544.0,437.1 546.0,434.7 548.0,432.3 550.0,429.8 552.0,427.4 554.0,425.0 556.0,422.6 558.0,420.2 560.0,417.8 562.0,415.4 564.0,413.0 566.0,410.6 568.0,408.2 570.0,405.8 572.0,403.4 574.0,401.0 576.0,398.6 578.0,396.2 580.0,393.8 582.0,391.4 584.0,389.0 586.0,386.6 588.0,384.3 590.0,381.9 592.0,379.5 594.0,377.1 596.0,374.7 598.0,372.3 600.0,370.0 602.0,367.6 604.0,365.2 606.0,362.8 608.0,360.4 610.0,358.0 612.0,355.6 614.0,353.2 616.0,350.8 618.0,348.4 620.0,346.0 622.0,343.6 624.0,341.2 626.0,338.8 628.0,336.4 630.0,334.0 632.0,331.5 634.0,329.1 636.0,326.7 638.0,324.2 640.0,321.8 642.0,319.3 644.0,316.8 646.0,314.4 648.0,311.9 650.0,309.4 652.0,306.9 654.0,304.4 656.0,301.9 658.0,299.4 660.0,296.9 662.0,294.4 664.0,291.9 666.0,289.4 668.0,286.9 670.0,284.4 672.0,281.9 674.0,279.4 676.0,276.9 678.0,274.4 680.0,272.0 682.0,269.5 684.0,267.1 686.0,264.7 688.0,262.3 690.0,259.9 692.0,257.5 694.0,255.2 696.0,252.8 698.0,250.5 700.0,248.2 702.0,246.0 704.0,243.7 706.0,241.5 708.0,239.3 710.0,237.1 712.0,235.0 714.0,232.9 716.0,230.8 718.0,228.8 720.0,226.8 722.0,224.8 724.0,222.9 726.0,221.0 728.0,219.2 730.0,217.3 732.0,215.6 734.0,213.8 736.0,212.1 738.0,210.5 740.0,208.9 742.0,207.3 744.0,205.8 746.0,204.3 748.0,202.9 750.0,201.5 752.0,200.2 754.0,198.9 756.0,197.7 758.0,196.5 760.0,195.3 762.0,194.3 764.0,193.2 766.0,192.3 768.0,191.4 770.0,190.5 772.0,189.7 774.0,189.0 776.0,188.3 778.0,187.6 780.0,187.1 782.0,186.6 784.0,186.1 786.0,185.8 788.0,185.4 790.0,185.2 792.0,185.0 794.0,184.9 796.0,184.8 798.0,184.9 800.0,184.9 802.0,185.1 804.0,185.3 806.0,185.5 808.0,185.9 810.0,186.2 812.0,186.7 814.0,187.2 816.0,187.8 818.0,188.4 820.0,189.1 822.0,189.8 824.0,190.7 826.0,191.5 828.0,192.4 830.0,193.4 832.0,194.5 834.0,195.6 836.0,196.7 838.0,197.9 840.0,199.2 842.0,200.5 844.0,201.9 846.0,203.3 848.0,204.8 850.0,206.3 852.0,207.9 854.0,209.5 856.0,211.2 858.0,212.9 860.0,214.7 862.0,216.5 864.0,218.4 866.0,220.4 868.0,222.3 870.0,224.4 872.0,226.5 874.0,228.6 876.0,230.8 878.0,233.0 880.0,235.3 882.0,237.7 884.0,240.1 886.0,242.5 888.0,245.0 890.0,247.6 892.0,250.2 894.0,252.9 896.0,255.6 898.0,258.4 900.0,261.2 902.0,264.1 904.0,267.1 906.0,270.1 908.0,273.1 910.0,276.2 912.0,279.4 914.0,282.6 916.0,285.9 918.0,289.3 920.0,292.7 922.0,296.1 924.0,299.7 926.0,303.2 928.0,306.9 930.0,310.6 932.0,314.3 934.0,318.2 936.0,322.0 938.0,326.0 940.0,330.0 942.0,334.0 944.0,338.1 946.0,342.3 948.0,346.5 950.0,350.8 952.0,355.1 954.0,359.4 956.0,363.8 958.0,368.3 960.0,372.8 962.0,377.3 964.0,381.9 966.0,386.5 968.0,391.1 970.0,395.8 972.0,400.6 974.0,405.3 976.0,410.1 978.0,415.0 980.0,419.8 982.0,424.7 984.0,429.6 986.0,434.6 988.0,439.6 990.0,444.6 992.0,449.6 994.0,454.6 996.0,459.7 998.0,464.8 1000.0,469.9 1002.0,475.0 1004.0,480.1 1006.0,485.3 1008.0,490.5 1010.0,495.6 1012.0,500.8 1014.0,506.0 1016.0,511.2 1018.0,516.4 1020.0,521.7 1022.0,526.9 1024.0,532.1 1026.0,537.3 1028.0,542.5 1030.0,547.7 1032.0,552.9 1034.0,558.1 1036.0,563.3 1038.0,568.5 1040.0,573.6 1042.0,578.8 1044.0,583.9 1046.0,589.0 1048.0,594.1 1050.0,599.2 1052.0,604.3 1054.0,609.3 1056.0,614.3 1058.0,619.3 1060.0,624.2 1062.0,629.2 1064.0,634.1 1066.0,638.9 1068.0,643.7 1070.0,648.5 1072.0,653.3 1074.0,658.0 1076.0,662.7 1078.0,667.3 1080.0,671.9 1082.0,676.4 1084.0,681.0 1086.0,685.4 1088.0,689.9 1090.0,694.3 1092.0,698.7 1094.0,703.0 1096.0,707.3 1098.0,711.6 1100.0,715.8 1102.0,720.1 1104.0,724.2 1106.0,728.4 1108.0,732.5 1110.0,736.6 1112.0,740.7 1114.0,744.8 1116.0,748.8 1118.0,752.8 1120.0,756.8 1122.0,760.8 1124.0,764.7 1126.0,768.7 1128.0,772.6 1130.0,776.5 1132.0,780.3 1134.0,784.2 1136.0,788.0 1138.0,791.8 1140.0,795.7 1142.0,799.5 1144.0,803.2 1146.0,807.0 1148.0,810.8 1150.0,814.5 1152.0,818.3 1154.0,822.0 1156.0,825.7 1158.0,829.4 1160.0,833.1 1162.0,836.8 1164.0,840.5 1166.0,844.2 1168.0,847.8 1170.0,851.5 1172.0,855.1 1174.0,858.7 1176.0,862.3 1178.0,865.9 1180.0,869.5 1182.0,873.0 1184.0,876.6 1186.0,880.1 1188.0,883.7 1190.0,887.2 1192.0,890.7 1194.0,894.2 1196.0,897.7 1198.0,901.2 1200.0,904.6 1202.0,908.1 1204.0,911.5 1206.0,914.9 1208.0,918.3 1210.0,921.7 1212.0,925.1 1214.0,928.4 1216.0,931.8 1218.0,935.1 1220.0,938.5 1222.0,941.8 1224.0,945.1 1226.0,948.3 1228.0,951.6 1230.0,954.8 1232.0,958.1 1234.0,961.3 1236.0,964.4 1238.0,967.6 1240.0,970.7 1242.0,973.9 1244.0,977.0 1246.0,980.0 1248.0,983.1 1250.0,986.1 1252.0,989.1 1254.0,992.0 1256.0,994.9 1258.0,997.8 1260.0,1000.7 1262.0,1003.5 1264.0,1006.4 1266.0,1009.1 1268.0,1011.9 1270.0,1014.6 1272.0,1017.2 1274.0,1019.9 1276.0,1022.5 1278.0,1025.0 1280.0,1027.5 1282.0,1030.0 1284.0,1032.4 1286.0,1034.8 1288.0,1037.2 1290.0,1039.5 1292.0,1041.8 1294.0,1044.0 1296.0,1046.2 1298.0,1048.3 1300.0,1050.4 1302.0,1052.5 1304.0,1054.5 1306.0,1056.5 1308.0,1058.4 1310.0,1060.3 1312.0,1062.1 1314.0,1063.9 1316.0,1065.7 1318.0,1067.4 1320.0,1069.1 1322.0,1070.7 1324.0,1072.3 1326.0,1073.9 1328.0,1075.4 1330.0,1076.8 1332.0,1078.2 1334.0,1079.6 1336.0,1081.0 1338.0,1082.2 1340.0,1083.5 1342.0,1084.7 1344.0,1085.8 1346.0,1087.0 1348.0,1088.0 1350.0,1089.1 1352.0,1090.1 1354.0,1091.0 1356.0,1091.9 1358.0,1092.8 1360.0,1093.6 1362.0,1094.3 1364.0,1095.1 1366.0,1095.8 1368.0,1096.4 1370.0,1097.1 1372.0,1097.6 1374.0,1098.2 1376.0,1098.7 1378.0,1099.2 1380.0,1099.7 1382.0,1100.1 1384.0,1100.5 1386.0,1100.9 1388.0,1101.3 1390.0,1101.6 1392.0,1101.9 1394.0,1102.2 1396.0,1102.5 1398.0,1102.8 1400.0,1103.1 1402.0,1103.3 1404.0,1103.5 1406.0,1103.7 1408.0,1104.0 1410.0,1104.2 1412.0,1104.4 1414.0,1104.6 1416.0,1104.8 1418.0,1104.9 1420.0,1105.1 1422.0,1105.3 1424.0,1105.5 1426.0,1105.7 1428.0,1105.9 1430.0,1106.1 1432.0,1106.3 1434.0,1106.6 1436.0,1106.8 1438.0,1107.0 1440.0,1107.3 1442.0,1107.5 1444.0,1107.7 1446.0,1108.0 1448.0,1108.2 1450.0,1108.4 1452.0,1108.6 1454.0,1108.8 1456.0,1109.1 1458.0,1109.3 1460.0,1109.4 1462.0,1109.6 1464.0,1109.8 1466.0,1109.9 1468.0,1110.1 1470.0,1110.2 1472.0,1110.3 1474.0,1110.4 1476.0,1110.5 1478.0,1110.5 1480.0,1110.6 1482.0,1110.6 1484.0,1110.6 1486.0,1110.6 1488.0,1110.5 1490.0,1110.4 1492.0,1110.3 1494.0,1110.2 1496.0,1110.0 1498.0,1109.8 1499.8,1109.6" stroke="#d42ad2"/>
<path d="M152.0,560.7 154.0,562.7 156.0,564.6 158.0,566.6 160.0,568.5 162.0,570.4 164.0,572.4 166.0,574.3 168.0,576.2 170.0,578.1 172.0,580.1 174.0,582.0 176.0,583.9 178.0,585.8 180.0,587.6 182.0,589.5 184.0,591.4 186.0,593.2 188.0,595.1 190.0,596.9 192.0,598.7 194.0,600.5 196.0,602.3 198.0,604.1 200.0,605.9 202.0,607.6 204.0,609.3 206.0,611.1 208.0,612.8 210.0,614.4 212.0,616.1 214.0,617.7 216.0,619.3 218.0,620.9 220.0,622.5 222.0,624.0 224.0,625.6 226.0,627.1 228.0,628.5 230.0,630.0 232.0,631.4 234.0,632.8 236.0,634.2 238.0,635.5 240.0,636.9 242.0,638.2 244.0,639.4 246.0,640.7 248.0,641.9 250.0,643.1 252.0,644.2 254.0,645.3 256.0,646.4 258.0,647.5 260.0,648.5 262.0,649.5 264.0,650.5 266.0,651.4 268.0,652.4 270.0,653.2 272.0,654.1 274.0,654.9 276.0,655.7 278.0,656.4 280.0,657.1 282.0,657.8 284.0,658.4 286.0,659.0 288.0,659.6 290.0,660.1 292.0,660.6 294.0,661.1 296.0,661.5 298.0,661.9 300.0,662.2 302.0,662.5 304.0,662.8 306.0,663.0 308.0,663.2 310.0,663.3 312.0,663.4 314.0,663.5 316.0,663.5 318.0,663.4 320.0,663.4 322.0,663.2 324.0,663.0 326.0,662.8 328.0,662.5 330.0,662.2 332.0,661.8 334.0,661.4 336.0,660.9 338.0,660.4 340.0,659.8 342.0,659.2 344.0,658.5 346.0,657.7 348.0,656.9 350.0,656.1 352.0,655.2 354.0,654.2 356.0,653.2 358.0,652.1 360.0,650.9 362.0,649.7 364.0,648.4 366.0,647.1 368.0,645.7 370.0,644.2 372.0,642.7 374.0,641.1 376.0,639.5 378.0,637.8 380.0,636.1 382.0,634.3 384.0,632.5 386.0,630.6 388.0,628.7 390.0,626.7 392.0,624.8 394.0,622.7 396.0,620.7 398.0,618.6 400.0,616.4 402.0,614.3 404.0,612.1 406.0,609.9 408.0,607.6 410.0,605.4 412.0,603.1 414.0,600.8 416.0,598.5 418.0,596.2 420.0,593.8 422.0,591.5 424.0,589.1 426.0,586.8 428.0,584.4 430.0,582.0 432.0,579.6 434.0,577.3 436.0,574.9 438.0,572.5 440.0,570.2 442.0,567.8 444.0,565.4 446.0,563.1 448.0,560.7 450.0,558.4 452.0,556.0 454.0,553.7 456.0,551.3 458.0,549.0 460.0,546.7 462.0,544.3 464.0,542.0 466.0,539.6 468.0,537.3 470.0,535.0 472.0,532.6 474.0,530.3 476.0,528.0 478.0,525.6 480.0,523.3 482.0,521.0 484.0,518.6 486.0,516.3 488.0,513.9 490.0,511.6 492.0,509.2 494.0,506.9 496.0,504.5 498.0,502.2 500.0,499.8 502.0,497.4 504.0,495.1 506.0,492.7 508.0,490.3 510.0,488.0 512.0,485.6 514.0,483.2 516.0,480.8 518.0,478.4 520.0,476.0 522.0,473.6 524.0,471.2 526.0,468.8 528.0,466.4 530.0,464.0 532.0,461.6 534.0,459.2 536.0,456.8 538.0,454.4 540.0,452.0 542.0,449.6 544.0,447.1 546.0,444.7 548.0,442.3 550.0,439.9 552.0,437.5 554.0,435.1 556.0,432.7 558.0,430.3 560.0,427.9 562.0,425.5 564.0,423.1 566.0,420.7 568.0,418.3 570.0,415.9 572.0,413.6 574.0,411.2 576.0,408.8 578.0,406.4 580.0,404.1 582.0,401.7 584.0,399.3 586.0,397.0 588.0,394.6 590.0,392.3 592.0,389.9 594.0,387.6 596.0,385.2 598.0,382.9 600.0,380.5 602.0,378.2 604.0,375.8 606.0,373.4 608.0,371.1 610.0,368.7 612.0,366.4 614.0,364.0 616.0,361.6 618.0,359.2 620.0,356.8 622.0,354.5 624.0,352.1 626.0,349.7 628.0,347.2 630.0,344.8 632.0,342.4 634.0,340.0 636.0,337.5 638.0,335.1 640.0,332.6 642.0,330.1 644.0,327.6 646.0,325.1 648.0,322.6 650.0,320.1 652.0,317.6 654.0,315.0 656.0,312.5 658.0,309.9 660.0,307.4 662.0,304.8 664.0,302.2 666.0,299.6 668.0,297.1 670.0,294.5 672.0,291.9 674.0,289.4 676.0,286.8 678.0,284.2 680.0,281.7 682.0,279.2 684.0,276.6 686.0,274.1 688.0,271.6 690.0,269.2 692.0,266.7 694.0,264.3 696.0,261.8 698.0,259.4 700.0,257.1 702.0,254.7 704.0,252.4 706.0,250.1 708.0,247.8 710.0,245.6 712.0,243.4 714.0,241.2 716.0,239.1 718.0,237.0 720.0,234.9 722.0,232.9 724.0,230.9 726.0,228.9 728.0,227.0 730.0,225.2 732.0,223.3 734.0,221.6 736.0,219.8 738.0,218.1 740.0,216.5 742.0,214.9 744.0,213.3 746.0,211.8 748.0,210.4 750.0,209.0 752.0,207.6 754.0,206.3 756.0,205.1 758.0,203.9 760.0,202.7 762.0,201.7 764.0,200.6 766.0,199.6 768.0,198.7 770.0,197.8 772.0,197.0 774.0,196.3 776.0,195.6 778.0,195.0 780.0,194.4 782.0,193.9 784.0,193.4 786.0,193.1 788.0,192.7 790.0,192.5 792.0,192.3 794.0,192.2 796.0,192.1 798.0,192.1 800.0,192.2 802.0,192.3 804.0,192.5 806.0,192.8 808.0,193.1 810.0,193.5 812.0,194.0 814.0,194.5 816.0,195.1 818.0,195.7 820.0,196.4 822.0,197.2 824.0,198.0 826.0,198.9 828.0,199.9 830.0,200.9 832.0,201.9 834.0,203.1 836.0,204.3 838.0,205.5 840.0,206.8 842.0,208.2 844.0,209.6 846.0,211.1 848.0,212.7 850.0,214.3 852.0,216.0 854.0,217.7 856.0,219.5 858.0,221.3 860.0,223.2 862.0,225.2 864.0,227.2 866.0,229.2 868.0,231.4 870.0,233.5 872.0,235.8 874.0,238.1 876.0,240.4 878.0,242.8 880.0,245.3 882.0,247.8 884.0,250.3 886.0,253.0 888.0,255.6 890.0,258.4 892.0,261.2 894.0,264.0 896.0,266.9 898.0,269.9 900.0,272.9 902.0,275.9 904.0,279.0 906.0,282.2 908.0,285.4 910.0,288.7 912.0,292.0 914.0,295.4 916.0,298.8 918.0,302.3 920.0,305.8 922.0,309.4 924.0,313.0 926.0,316.7 928.0,320.4 930.0,324.2 932.0,328.1 934.0,332.0 936.0,335.9 938.0,339.9 940.0,343.9 942.0,348.0 944.0,352.2 946.0,356.3 948.0,360.6 950.0,364.8 952.0,369.1 954.0,373.5 956.0,377.9 958.0,382.3 960.0,386.8 962.0,391.3 964.0,395.9 966.0,400.5 968.0,405.1 970.0,409.7 972.0,414.4 974.0,419.2 976.0,423.9 978.0,428.7 980.0,433.5 982.0,438.4 984.0,443.3 986.0,448.2 988.0,453.1 990.0,458.1 992.0,463.1 994.0,468.1 996.0,473.1 998.0,478.2 1000.0,483.3 1002.0,488.4 1004.0,493.5 1006.0,498.7 1008.0,503.8 1010.0,509.0 1012.0,514.2 1014.0,519.4 1016.0,524.6 1018.0,529.8 1020.0,535.0 1022.0,540.3 1024.0,545.5 1026.0,550.7 1028.0,556.0 1030.0,561.2 1032.0,566.4 1034.0,571.6 1036.0,576.8 1038.0,582.0 1040.0,587.2 1042.0,592.4 1044.0,597.5 1046.0,602.7 1048.0,607.8 1050.0,612.9 1052.0,617.9 1054.0,623.0 1056.0,628.0 1058.0,633.0 1060.0,637.9 1062.0,642.9 1064.0,647.7 1066.0,652.6 1068.0,657.4 1070.0,662.2 1072.0,666.9 1074.0,671.6 1076.0,676.2 1078.0,680.8 1080.0,685.3 1082.0,689.8 1084.0,694.3 1086.0,698.7 1088.0,703.1 1090.0,707.4 1092.0,711.7 1094.0,716.0 1096.0,720.2 1098.0,724.4 1100.0,728.6 1102.0,732.7 1104.0,736.8 1106.0,740.9 1108.0,745.0 1110.0,749.0 1112.0,753.0 1114.0,757.0 1116.0,760.9 1118.0,764.8 1120.0,768.7 1122.0,772.6 1124.0,776.5 1126.0,780.3 1128.0,784.1 1130.0,788.0 1132.0,791.8 1134.0,795.5 1136.0,799.3 1138.0,803.1 1140.0,806.8 1142.0,810.6 1144.0,814.3 1146.0,818.0 1148.0,821.7 1150.0,825.5 1152.0,829.2 1154.0,832.9 1156.0,836.6 1158.0,840.2 1160.0,843.9 1162.0,847.6 1164.0,851.2 1166.0,854.9 1168.0,858.5 1170.0,862.2 1172.0,865.8 1174.0,869.4 1176.0,873.0 1178.0,876.6 1180.0,880.2 1182.0,883.7 1184.0,887.3 1186.0,890.8 1188.0,894.3 1190.0,897.9 1192.0,901.4 1194.0,904.8 1196.0,908.3 1198.0,911.8 1200.0,915.2 1202.0,918.6 1204.0,922.0 1206.0,925.4 1208.0,928.8 1210.0,932.2 1212.0,935.5 1214.0,938.9 1216.0,942.2 1218.0,945.5 1220.0,948.7 1222.0,952.0 1224.0,955.2 1226.0,958.5 1228.0,961.6 1230.0,964.8 1232.0,968.0 1234.0,971.1 1236.0,974.2 1238.0,977.3 1240.0,980.3 1242.0,983.4 1244.0,986.4 1246.0,989.3 1248.0,992.3 1250.0,995.2 1252.0,998.1 1254.0,1001.0 1256.0,1003.8 1258.0,1006.6 1260.0,1009.4 1262.0,1012.1 1264.0,1014.8 1266.0,1017.5 1268.0,1020.1 1270.0,1022.7 1272.0,1025.3 1274.0,1027.8 1276.0,1030.3 1278.0,1032.8 1280.0,1035.2 1282.0,1037.6 1284.0,1039.9 1286.0,1042.2 1288.0,1044.5 1290.0,1046.7 1292.0,1048.9 1294.0,1051.0 1296.0,1053.1 1298.0,1055.2 1300.0,1057.2 1302.0,1059.2 1304.0,1061.1 1306.0,1063.0 1308.0,1064.8 1310.0,1066.7 1312.0,1068.4 1314.0,1070.2 1316.0,1071.9 1318.0,1073.5 1320.0,1075.2 1322.0,1076.8 1324.0,1078.3 1326.0,1079.8 1328.0,1081.3 1330.0,1082.7 1332.0,1084.1 1334.0,1085.5 1336.0,1086.8 1338.0,1088.1 1340.0,1089.3 1342.0,1090.5 1344.0,1091.7 1346.0,1092.8 1348.0,1093.9 1350.0,1095.0 1352.0,1096.0 1354.0,1097.0 1356.0,1097.9 1358.0,1098.8 1360.0,1099.7 1362.0,1100.5 1364.0,1101.3 1366.0,1102.1 1368.0,1102.8 1370.0,1103.5 1372.0,1104.2 1374.0,1104.9 1376.0,1105.5 1378.0,1106.1 1380.0,1106.6 1382.0,1107.2 1384.0,1107.7 1386.0,1108.2 1388.0,1108.6 1390.0,1109.1 1392.0,1109.5 1394.0,1109.9 1396.0,1110.3 1398.0,1110.6 1400.0,1110.9 1402.0,1111.3 1404.0,1111.6 1406.0,1111.9 1408.0,1112.1 1410.0,1112.4 1412.0,1112.6 1414.0,1112.9 1416.0,1113.1 1418.0,1113.3 1420.0,1113.5 1422.0,1113.7 1424.0,1113.9 1426.0,1114.1 1428.0,1114.2 1430.0,1114.4 1432.0,1114.6 1434.0,1114.7 1436.0,1114.9 1438.0,1115.0 1440.0,1115.2 1442.0,1115.3 1444.0,1115.4 1446.0,1115.6 1448.0,1115.7 1450.0,1115.8 1452.0,1115.9 1454.0,1116.0 1456.0,1116.2 1458.0,1116.3 1460.0,1116.4 1462.0,1116.5 1464.0,1116.6 1466.0,1116.7 1468.0,1116.8 1470.0,1116.9 1472.0,1117.0 1474.0,1117.0 1476.0,1117.1 1478.0,1117.2 1480.0,1117.3 1482.0,1117.4 1484.0,1117.4 1486.0,1117.5 1488.0,1117.6 1490.0,1117.7 1492.0,1117.7 1494.0,1117.8 1496.0,1117.9 1498.0,1118.0 1499.8,1118.0" stroke="#117a1e"/>
</g>
<g stroke="#000" stroke-width="13.2" stroke-linecap="round" fill="none">
<line x1="286.8" y1="1123.5" x2="286.8" y2="1132.8"/>
<line x1="421.6" y1="1123.5" x2="421.6" y2="1142.6"/>
<line x1="556.3" y1="1123.5" x2="556.3" y2="1132.8"/>
<line x1="691.1" y1="1123.5" x2="691.1" y2="1142.6"/>
<line x1="825.9" y1="1123.5" x2="825.9" y2="1132.8"/>
<line x1="960.7" y1="1123.5" x2="960.7" y2="1142.6"/>
<line x1="1095.5" y1="1123.5" x2="1095.5" y2="1132.8"/>
<line x1="1230.2" y1="1123.5" x2="1230.2" y2="1142.6"/>
<line x1="1365.0" y1="1123.5" x2="1365.0" y2="1132.8"/>
<line x1="152.0" y1="1123.5" x2="152.0" y2="1142.6"/>
<line x1="1499.8" y1="1123.5" x2="1499.8" y2="1142.6"/>
</g>
<rect x="152.0" y="26.6" width="1347.8" height="1096.9" fill="none" stroke="#000" stroke-width="13.2" stroke-linejoin="round"/>
<g stroke-width="7" stroke-linecap="round">
<line x1="1147.5" y1="117.4" x2="1260.5" y2="117.4" stroke="#000000"/>
<line x1="1147.5" y1="197.6" x2="1260.5" y2="197.6" stroke="#e3140f"/>
<line x1="1147.5" y1="277.7" x2="1260.5" y2="277.7" stroke="#2a14e6"/>
<line x1="1147.5" y1="357.9" x2="1260.5" y2="357.9" stroke="#d42ad2"/>
<line x1="1147.5" y1="438.0" x2="1260.5" y2="438.0" stroke="#117a1e"/>
</g>
<g font-size="64">
<text transform="translate(1277,134.6) scale(0.97,1)" x="-1">0 min</text>
<text transform="translate(1277,214.8) scale(0.97,1)" x="-1">5 min</text>
<text transform="translate(1277,294.9) scale(0.97,1)" x="-1">10 min</text>
<text transform="translate(1277,375.1) scale(0.97,1)" x="-1">20 min</text>
<text transform="translate(1277,455.2) scale(0.97,1)" x="-1">30 min</text>
</g>
<g font-size="66" text-anchor="middle">
<text x="152.0" y="1207.5">350</text>
<text x="421.6" y="1207.5">400</text>
<text x="691.1" y="1207.5">450</text>
<text x="960.7" y="1207.5">500</text>
<text x="1230.2" y="1207.5">550</text>
<text x="1499.8" y="1207.5">600</text>
</g>
<text transform="translate(885.2,1298.5) scale(0.953,1)" font-size="86" text-anchor="middle">Wavelength (nm)</text>
<text transform="translate(87.6,595.5) rotate(-90) scale(0.968,1)" font-size="86" text-anchor="middle">Absorbance (a.u.)</text>
</svg>
</body></html>
